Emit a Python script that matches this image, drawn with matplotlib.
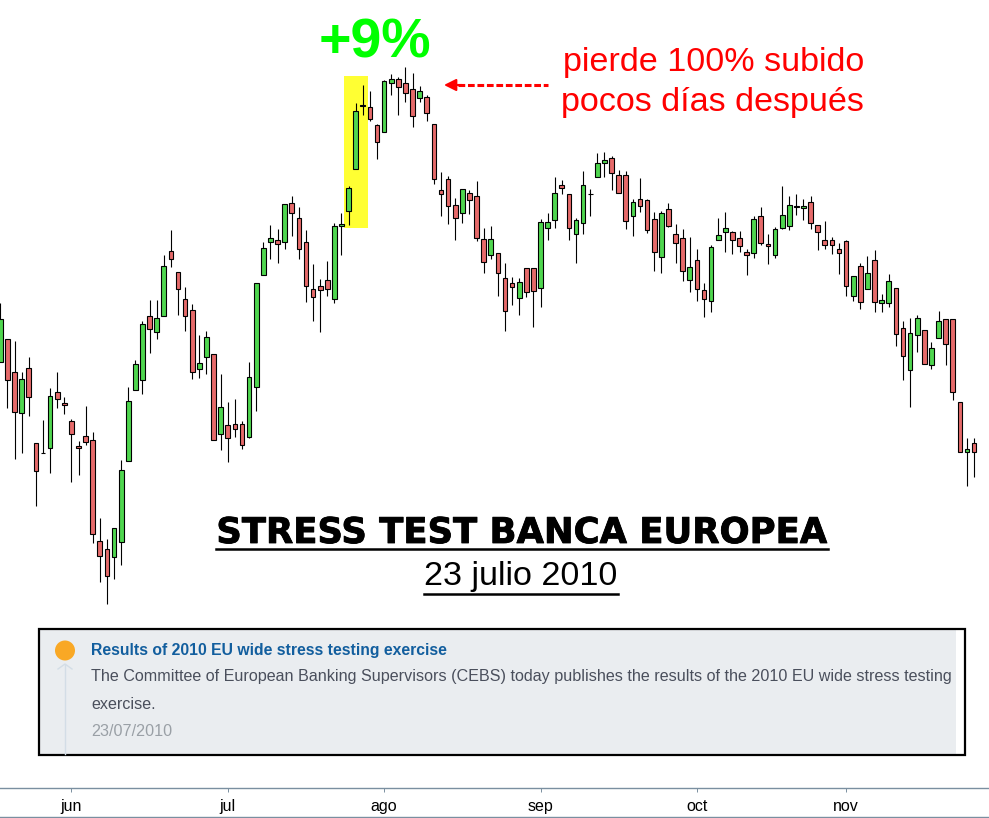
import matplotlib
matplotlib.use("Agg")
import matplotlib.pyplot as plt
import matplotlib.patheffects as pe
from matplotlib.patches import Rectangle, Circle

plt.rcParams["font.family"] = ["Liberation Sans", "DejaVu Sans"]

W, H = 989, 818
green = "#4FD64F"
red = "#E66A6A"
slate = "#7A8FA0"

# candle levels, chart units grow downwards (no price scale is shown)
wick_top = [
    303.3, 339.3, 341.0, 372.0, 357.3, 443.3, 420.0, 388.3, 372.0, 397.3, 419.3, 441.0, 406.3, 432.3, 518.3, 539.3,
    528.3, 460.3, 387.3, 360.3, 321.3, 300.3, 300.3, 255.3, 230.3, 272.3, 287.3, 304.3, 335.3, 331.3, 354.3, 374.3,
    402.3, 399.3, 421.3, 362.3, 283.3, 242.0, 225.0, 229.0, 204.3, 196.0, 207.3, 230.3, 264.3, 279.3, 261.3, 222.7,
    213.3, 186.3, 103.3, 85.3, 91.3, 124.3, 80.3, 74.3, 77.3, 67.3, 73.3, 86.3, 95.3, 124.3, 172.3, 176.3,
    198.3, 189.3, 190.3, 181.3, 228.3, 226.3, 253.3, 263.3, 277.3, 278.3, 268.3, 268.3, 219.3, 213.3, 177.3, 180.3,
    194.3, 218.3, 171.3, 189.3, 153.3, 152.3, 156.3, 170.3, 171.3, 199.3, 178.3, 199.3, 212.3, 211.3, 203.3, 224.3,
    229.3, 237.3, 249.3, 283.3, 245.3, 218.3, 212.3, 231.3, 231.3, 249.3, 216.3, 207.3, 234.3, 227.3, 186.3, 196.3,
    194.3, 199.3, 196.3, 225.3, 221.3, 237.3, 243.3, 240.3, 276.3, 263.3, 256.3, 250.3, 294.3, 274.3, 288.3, 321.3,
    318.3, 315.3, 330.3, 342.3, 311.3, 319.3, 319.3, 402.3, 438.3, 438.3,
]
body_top = [
    319.3, 339.3, 372.3, 379.3, 368.3, 443.3, 453.3, 396.3, 392.3, 403.3, 421.3, 446.3, 436.3, 440.3, 541.3, 549.3,
    528.3, 470.3, 401.3, 364.3, 324.3, 316.3, 318.3, 266.3, 251.3, 272.3, 299.3, 310.3, 363.3, 337.3, 354.3, 407.3,
    425.3, 424.3, 424.3, 377.3, 283.3, 248.3, 238.3, 240.3, 204.3, 203.3, 218.3, 242.3, 289.3, 286.3, 280.3, 226.3,
    224.3, 188.3, 111.3, 105.3, 107.3, 125.3, 81.3, 79.3, 79.3, 83.3, 89.3, 91.3, 97.3, 124.3, 190.3, 179.3,
    205.3, 189.3, 193.3, 196.3, 239.3, 239.3, 253.3, 278.3, 283.3, 282.3, 268.3, 268.3, 222.3, 222.3, 193.3, 185.3,
    194.3, 220.3, 185.3, 194.3, 163.3, 160.3, 158.3, 175.3, 175.3, 202.3, 199.3, 200.3, 219.3, 213.3, 209.3, 234.3,
    238.3, 267.3, 260.3, 290.3, 247.3, 235.3, 228.3, 232.3, 238.3, 252.3, 219.3, 216.3, 244.3, 229.3, 215.3, 205.3,
    206.3, 206.3, 202.3, 225.3, 240.3, 240.3, 249.3, 241.3, 276.3, 266.3, 273.3, 260.3, 300.3, 281.3, 288.3, 328.3,
    333.3, 318.3, 330.3, 348.3, 321.3, 319.3, 319.3, 402.3, 449.3, 443.3,
]
body_bot = [
    361.7, 380.3, 412.3, 413.3, 397.3, 471.3, 453.3, 448.3, 399.3, 405.3, 434.3, 448.3, 442.3, 534.3, 556.3, 576.3,
    557.3, 542.3, 461.3, 390.3, 380.3, 329.3, 332.3, 316.3, 259.3, 289.3, 316.3, 372.3, 369.3, 357.3, 440.3, 434.3,
    438.3, 429.3, 445.3, 437.3, 387.3, 275.3, 242.3, 244.3, 242.3, 213.3, 249.3, 286.3, 297.3, 290.3, 289.3, 299.3,
    226.3, 211.3, 169.3, 106.3, 119.3, 142.3, 132.3, 83.3, 87.3, 93.3, 116.3, 98.3, 113.3, 179.3, 194.3, 206.3,
    218.3, 213.3, 200.3, 238.3, 262.3, 255.3, 273.3, 311.3, 287.3, 298.3, 292.3, 291.3, 288.3, 228.3, 220.3, 188.3,
    228.3, 234.3, 223.3, 194.3, 177.3, 163.3, 173.3, 193.3, 221.3, 216.3, 206.3, 230.3, 252.3, 257.3, 226.3, 243.3,
    271.3, 280.3, 289.3, 299.3, 301.3, 240.3, 232.3, 240.3, 246.3, 255.3, 253.3, 243.3, 246.3, 255.3, 228.3, 226.3,
    207.3, 208.3, 223.3, 232.3, 245.3, 245.3, 253.3, 286.3, 296.3, 302.3, 289.3, 302.3, 303.3, 303.3, 334.3, 356.3,
    370.3, 335.3, 364.3, 365.3, 338.3, 344.3, 392.3, 452.3, 452.3, 452.3,
]
wick_bot = [
    361.7, 407.7, 459.3, 452.7, 415.7, 505.7, 453.3, 472.7, 407.7, 413.7, 481.7, 474.7, 444.7, 543.3, 581.7, 603.7,
    578.7, 564.7, 461.3, 390.3, 394.3, 352.7, 338.7, 316.3, 266.7, 314.7, 330.7, 378.7, 377.7, 373.7, 440.3, 450.3,
    461.7, 436.7, 449.3, 438.3, 410.7, 275.3, 259.0, 262.7, 248.7, 235.7, 258.7, 301.7, 320.7, 331.7, 295.7, 302.7,
    254.7, 224.7, 169.3, 114.7, 120.7, 159.3, 132.3, 94.7, 114.7, 102.0, 126.7, 101.7, 120.7, 183.7, 215.7, 223.7,
    239.7, 222.7, 213.7, 240.7, 272.7, 259.0, 295.7, 330.7, 304.7, 314.7, 296.7, 326.7, 306.7, 239.7, 227.7, 193.7,
    239.7, 262.7, 233.7, 215.7, 177.3, 176.7, 189.7, 193.3, 228.7, 235.7, 211.7, 232.7, 270.7, 272.7, 227.3, 262.7,
    280.7, 291.7, 300.7, 316.7, 311.7, 240.3, 251.7, 253.7, 251.7, 274.7, 258.3, 244.7, 263.7, 258.3, 229.3, 229.7,
    214.7, 219.7, 228.7, 249.7, 248.7, 253.7, 273.7, 295.7, 300.7, 308.7, 289.3, 311.7, 311.7, 306.7, 345.7, 379.7,
    406.7, 351.7, 364.3, 368.7, 338.3, 364.7, 400.3, 452.3, 485.7, 476.7,
]
# g = up day, r = down day, k = doji
direction = (
    "grrgrrkgrrrrrrrrgggggrggrrrrggrgrrrg"
    "gggrgrrrrrrggggkrrggrrrgrrrrrgrrr"
    "grrrgrrgggrrggkggrrrgrrrgrrrgrrggg"
    "rrrgrrgggkgrrrrrrgrgrggrrggrggrrrgr"
)

month_ticks = [10, 32, 54, 76, 98, 119]
month_labels = ["jun", "jul", "ago", "sep", "oct", "nov"]

days = list(range(len(wick_top)))
colors = {"g": green, "r": red, "k": "black"}

fig = plt.figure(figsize=(W / 100, H / 100), dpi=100, facecolor="white")

# chart takes everything above the date strip
ax = fig.add_axes([0, 30 / H, 1, 788 / H])
ax.set_xlim(-0.046, 139.1)
ax.set_ylim(788, 0)
for s in ["top", "left", "right"]:
    ax.spines[s].set_visible(False)
ax.spines["bottom"].set_color(slate)
ax.spines["bottom"].set_linewidth(1.0)
ax.set_yticks([])
ax.set_xticks(month_ticks)
ax.set_xticklabels(month_labels, fontsize=11.5, color="black")
ax.tick_params(axis="x", length=3, width=0.7, color=slate, pad=5)

ax.fill_between([48.36, 51.73], 76, 228, color="#FFFF33", lw=0, zorder=0)

wicks = ax.vlines(days, wick_top, wick_bot, color="black", lw=0.8, zorder=2)
wicks.set_snap(True)
heights = [b - t for t, b in zip(body_top, body_bot)]
ax.bar(
    days,
    heights,
    bottom=body_top,
    width=0.66,
    color=[colors[d] for d in direction],
    edgecolor="black",
    linewidth=0.8,
    zorder=3,
)

# overlay in picture pixels for the notes and the news box
ov = fig.add_axes([0, 0, 1, 1], facecolor="none")
ov.set_xlim(0, W)
ov.set_ylim(H, 0)
ov.axis("off")

ov.text(375, 44, "+9%", color="#00FF00", fontsize=40, fontweight="bold", ha="center", va="center")
ov.text(713.5, 62, "pierde 100% subido", color="#FF0000", fontsize=24.6, ha="center", va="center")
ov.text(712.5, 103, "pocos días después", color="#FF0000", fontsize=24.6, ha="center", va="center")
ov.plot([458, 548], [85, 85], color="#FF0000", lw=2.2, ls=(0, (2.2, 0.9)))
ov.annotate(
    "",
    xy=(444, 85),
    xytext=(462, 85),
    arrowprops=dict(arrowstyle="-|>", color="#FF0000", lw=1.5, mutation_scale=18, shrinkA=0, shrinkB=0),
)

head = ov.text(521.5, 533, "STRESS TEST BANCA EUROPEA", color="black", family="DejaVu Sans", fontsize=25.5, fontweight="bold", ha="center", va="center")
head.set_path_effects([pe.withStroke(linewidth=0.6, foreground="black")])
ov.plot([216, 828], [548.5, 548.5], color="black", lw=1.8)
ov.text(520.5, 576, "23 julio 2010", color="black", fontsize=24.6, ha="center", va="center")
ov.plot([424, 618], [593.5, 593.5], color="black", lw=1.8)

ov.add_patch(Rectangle((39, 629), 917, 126, facecolor="#EAEDF0", edgecolor="none"))
ov.add_patch(Rectangle((39, 629), 926, 126, facecolor="none", edgecolor="black", lw=1.6))
ov.plot([65, 65], [665, 754], color="#D3DDE6", lw=1.0)
ov.plot([58, 65, 72], [669, 664, 669], color="#D3DDE6", lw=1.0)
ov.add_patch(Circle((65, 650.5), 10, facecolor="#F9A825", edgecolor="none"))
ov.text(91, 650.5, "Results of 2010 EU wide stress testing exercise", color="#125E9E", fontsize=11.35, fontweight="bold", va="center")
ov.text(91, 677, "The Committee of European Banking Supervisors (CEBS) today publishes the results of the 2010 EU wide stress testing", color="#4A4F5C", fontsize=11.65, va="center")
ov.text(91, 704.5, "exercise.", color="#4A4F5C", fontsize=11.65, va="center")
ov.text(91, 731, "23/07/2010", color="#9AA0A6", fontsize=11.65, va="center")

ov.plot([0, W], [816.5, 816.5], color=slate, lw=1.0)

fig.savefig("out.png", dpi=100, facecolor="white")
